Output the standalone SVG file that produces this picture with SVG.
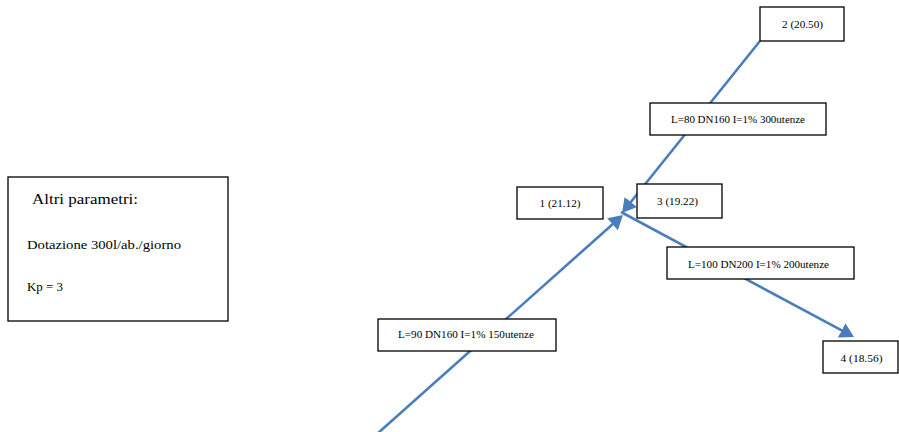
<svg xmlns="http://www.w3.org/2000/svg" width="899" height="432" viewBox="0 0 899 432">
<style>
.box{fill:#fff;stroke:#000;stroke-width:1.3}
.pipe{fill:none;stroke:#4A7EBB;stroke-width:2.6}
.lbl{font-family:"Liberation Serif","DejaVu Serif",serif;font-size:9.5px;fill:#000;text-anchor:middle}
.par{font-family:"Liberation Serif","DejaVu Serif",serif;fill:#000}
</style>
<defs>
<marker id="arr" markerUnits="userSpaceOnUse" markerWidth="16" markerHeight="18" refX="8" refY="8" orient="auto" viewBox="0 0 16 18">
<path d="M0,0 L14,8 L0,16 z" fill="#4A7EBB"/>
</marker>
</defs>
<rect width="899" height="432" fill="#fff"/>
<g id="connectors">
<line class="pipe" x1="760" y1="41" x2="625.8" y2="208.3" marker-end="url(#arr)"/>
<line class="pipe" x1="377" y1="434" x2="618.5" y2="219" marker-end="url(#arr)"/>
<line class="pipe" x1="621" y1="212" x2="848.7" y2="334.2" marker-end="url(#arr)"/>
</g>
<g id="params">
<rect class="box" x="8" y="177" width="220" height="144"/>
<text class="par" x="32" y="204" font-size="14.5" textLength="106" lengthAdjust="spacingAndGlyphs">Altri parametri:</text>
<text class="par" x="27" y="249" font-size="12" textLength="154" lengthAdjust="spacingAndGlyphs">Dotazione 300l/ab./giorno</text>
<text class="par" x="27" y="291" font-size="12" textLength="36" lengthAdjust="spacingAndGlyphs">Kp = 3</text>
</g>
<g id="node2">
<rect class="box" x="760" y="7" width="84" height="34"/>
<text class="lbl" x="802.5" y="28" textLength="41" lengthAdjust="spacingAndGlyphs">2 (20.50)</text>
</g>
<g id="pipe23label">
<rect class="box" x="650" y="103" width="176" height="32"/>
<text class="lbl" x="738" y="123" textLength="134" lengthAdjust="spacingAndGlyphs">L=80 DN160 I=1% 300utenze</text>
</g>
<g id="node3">
<rect class="box" x="637" y="184" width="85" height="34"/>
<text class="lbl" x="677.5" y="205" textLength="41" lengthAdjust="spacingAndGlyphs">3 (19.22)</text>
</g>
<g id="node1">
<rect class="box" x="517" y="187" width="86" height="32"/>
<text class="lbl" x="560" y="207" textLength="41" lengthAdjust="spacingAndGlyphs">1 (21.12)</text>
</g>
<g id="pipe13label">
<rect class="box" x="378" y="319" width="178" height="32"/>
<text class="lbl" x="466" y="338" textLength="136" lengthAdjust="spacingAndGlyphs">L=90 DN160 I=1% 150utenze</text>
</g>
<g id="pipe34label">
<rect class="box" x="667" y="247" width="187" height="32"/>
<text class="lbl" x="758.5" y="268" textLength="141" lengthAdjust="spacingAndGlyphs">L=100 DN200 I=1% 200utenze</text>
</g>
<g id="node4">
<rect class="box" x="823" y="341" width="75" height="32"/>
<text class="lbl" x="861.5" y="362" textLength="42" lengthAdjust="spacingAndGlyphs">4 (18.56)</text>
</g>
</svg>
